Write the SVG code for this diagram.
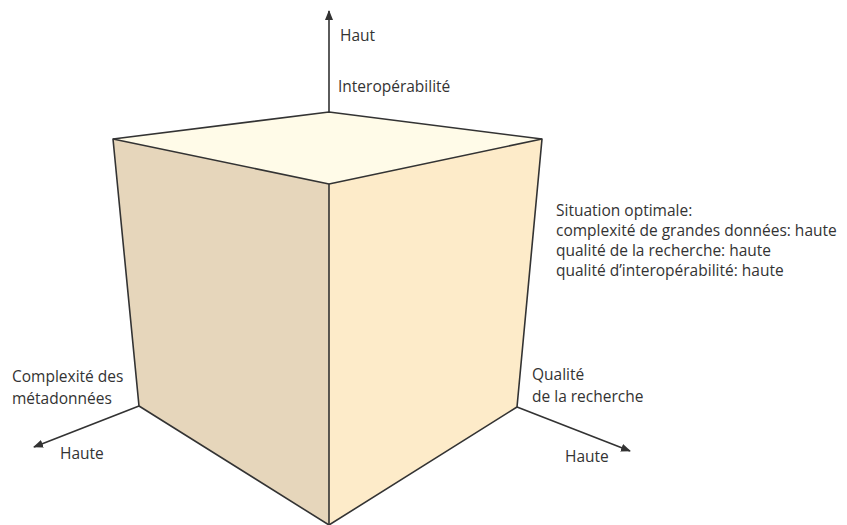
<svg xmlns="http://www.w3.org/2000/svg" width="847" height="525" viewBox="0 0 847 525">
<style>
.edge{stroke:#333;stroke-width:1.6;stroke-linejoin:round;fill:none}
.axis{stroke:#333;stroke-width:1.6;fill:none}
text{font-family:"Open Sans","Liberation Sans",sans-serif;font-size:15.5px;fill:#333}
</style>
<defs>
<marker id="arr" viewBox="0 0 10 8" refX="9" refY="4" markerWidth="10" markerHeight="8" markerUnits="userSpaceOnUse" orient="auto">
<path d="M0,0 L10,4 L0,8 Z" fill="#333"/>
</marker>
</defs>
<rect width="847" height="525" fill="#fff"/>
<g id="cube">
<polygon id="face-left" points="113,139 329,184 329,525 139,406" fill="#e6d6bb"/>
<polygon id="face-right" points="329,184 542,139 517,407 329,525" fill="#fdebc9"/>
<polygon id="face-top" points="113,139 329,112 542,139 329,184" fill="#fffbe8"/>
<polyline class="edge" points="139,406 113,139 329,112 542,139 517,407"/>
<polyline class="edge" points="113,139 329,184 542,139"/>
<line class="edge" x1="329" y1="184" x2="329" y2="525"/>
<polyline class="edge" points="139,406 329,525 517,407"/>
</g>
<g id="connectors">
<line class="axis" x1="329" y1="112" x2="329" y2="11" marker-end="url(#arr)"/>
<line class="axis" x1="139" y1="406" x2="34" y2="447" marker-end="url(#arr)"/>
<line class="axis" x1="517" y1="407" x2="630" y2="451" marker-end="url(#arr)"/>
</g>
<g id="label-up">
<text x="340" y="41">Haut</text>
<text x="338" y="92">Interopérabilité</text>
</g>
<g id="label-left">
<text x="12" y="382">Complexité des</text>
<text x="12" y="404">métadonnées</text>
<text x="60" y="459">Haute</text>
</g>
<g id="label-right">
<text x="532" y="380">Qualité</text>
<text x="532" y="402">de la recherche</text>
<text x="565" y="462">Haute</text>
</g>
<g id="label-optimal">
<text x="556" y="216">Situation optimale:</text>
<text x="556" y="236">complexité de grandes données: haute</text>
<text x="556" y="256">qualité de la recherche: haute</text>
<text x="556" y="276">qualité d’interopérabilité: haute</text>
</g>
</svg>
